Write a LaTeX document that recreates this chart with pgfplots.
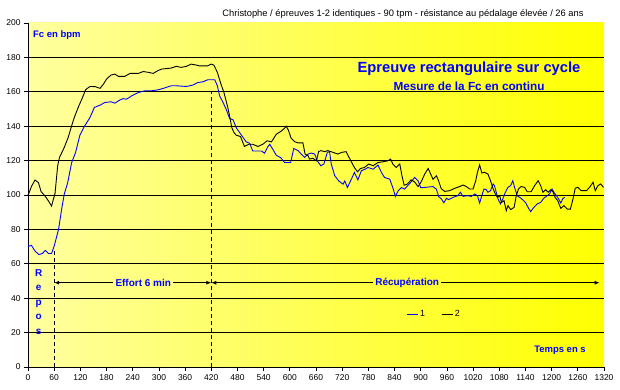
\documentclass[border=0pt]{standalone}
\usepackage{pgfplots}
\pgfplotsset{compat=1.18}
\usepackage{fontspec}
\setmainfont{Liberation Sans}
\usetikzlibrary{arrows.meta}
\definecolor{fcblue}{RGB}{0,0,255}
\definecolor{bgl}{RGB}{255,255,160}
\definecolor{bgr}{RGB}{255,255,0}

\pgfplotstableread{
t v
0 70
2 70.3
8 70.7
16 67.4
25 65.4
33 66
40 67.8
47 66
54 66
60 70.3
70 80
77 91.6
83 100.4
91 107.2
100 118.8
109 124.7
119 134.8
129 139.8
142 145
152 150.9
165 152.2
176 153.8
190 154.2
199 153.4
211 155.3
218 156
226 155.7
238 157.7
253 159.6
268 160.6
283 160.6
299 161.2
314 162.3
328 163.5
340 163.5
363 163.1
378 163.9
389 165.4
401 165.8
412 167
428 167
434 163.5
439 157.7
447 153.8
454 149.9
462 144.5
470 143.7
477 139.2
485 136.3
493 133.4
500 130.9
508 130.1
515 125.6
535 125.6
542 124.3
550 128.2
554 129.5
561 126.6
569 123.1
579 121.7
588 118.9
602 118.9
609 127.1
619 125.8
626 123.8
634 121.9
642 123.8
649 124.4
657 123.8
663 119.9
671 117
678 118
686 124.8
691 125.2
695 118
703 111.2
712 108.2
722 106.3
726 108.2
732 104.3
741 109.2
748 113.1
756 108.8
764 114.1
773 115
779 116
791 115
802 117.4
810 113.1
817 110.2
829 109.2
836 104.3
842 99.1
848 102.4
856 104.3
863 103.4
871 105.7
878 107.6
886 110.2
894 108.2
900 104.3
905 104.3
920 104.7
928 104.9
936 103.4
941 99.1
947 97.8
953 95.5
959 98.1
964 97.3
974 98.6
985 99.6
991 101.6
997 99.2
1007 99.6
1016 99.2
1024 100.6
1030 99.6
1035 95.3
1040 99.6
1045 103.5
1050 103.1
1054 101.6
1060 102.5
1066 106.4
1069 105.4
1073 101.6
1077 97.7
1083 94.8
1088 97.7
1094 101.6
1100 104.5
1106 105.4
1111 108.3
1115 104.5
1121 99.6
1130 98.1
1140 95.7
1146 92.8
1152 90.3
1159 92.8
1167 94.8
1175 95.7
1182 98.1
1190 99.6
1195 100.6
1201 103.5
1205 101.6
1211 99.6
1216 97.7
1221 95.3
1226 98.1
1230 98.6
}\serieA

\pgfplotstableread{
t v
0 100
2 101
8 105
16 108.7
24 107.2
30 102
39 99.4
47 96.5
54 93.6
62 101
68 117
72 121.7
83 127.6
92 133.4
100 140.2
106 145
115 150.9
125 156.7
132 161.2
142 163.1
154 163
165 162
173 164.5
180 167.4
190 169.7
199 170.3
207 169
222 169
234 170.7
253 170.7
264 171.8
276 171.3
287 170.7
297 172.2
306 173.2
328 173.8
340 174.8
351 174.2
363 174.8
374 176.1
386 175.5
393 175.1
412 175.1
420 176.1
426 175.5
434 171.3
441 165.4
449 159.6
457 151.8
462 146
467 139.2
472 136.3
477 134.8
487 134
496 128.2
506 129.5
515 129.5
527 128.2
538 129.5
548 131.5
558 130.9
569 135.3
580 137.1
588 138.8
592 140
597 137.5
603 133
611 131
619 130.3
630 130.3
635 123.8
642 122.8
645 120.9
653 121.3
661 119.9
666 125.2
671 125.8
680 125.2
687 125.8
699 124.8
710 123.8
719 124.8
729 125.2
741 119.3
748 116
755 113.5
762 115.4
771 116
781 118
791 117
802 118.9
813 119.3
825 119.9
831 120.9
836 118
844 116
852 118
857 111.2
862 105.7
869 106.3
878 108.8
886 107.6
894 104.9
901 107.6
909 112.1
917 115.4
923 112.1
928 109.2
936 111.2
941 108.2
947 103.7
955 102.1
966 102.5
978 103.9
989 104.9
997 105.8
1004 105
1012 103.5
1020 103.5
1026 108.3
1030 113.2
1035 117.5
1040 112.8
1046 113.2
1054 112.2
1060 108.3
1066 103.5
1071 100.6
1076 98.6
1081 99.6
1085 95.7
1091 96.7
1096 90.9
1100 93.8
1106 91.5
1114 92.8
1119 99.6
1124 103.5
1130 104.9
1138 104.5
1144 101.9
1153 101.9
1161 105.4
1169 108.3
1175 105.4
1180 101.6
1186 103.1
1192 101.6
1198 103.1
1203 101.9
1208 98.6
1214 96.7
1221 92.2
1228 93.8
1236 91.8
1243 91.8
1249 97.7
1254 103.9
1260 104.5
1268 102.5
1280 102.5
1287 104.5
1295 107.4
1300 102.5
1306 105.4
1312 106.4
1319 104.5
}\serieB

\begin{document}
\begin{tikzpicture}
\begin{axis}[
  scale only axis, width=576bp, height=344bp,
  xmin=0, xmax=1320, ymin=0, ymax=200,
  axis lines=left, axis line style={-, line width=0.8bp},
  xtick={0,60,...,1320}, ytick={0,20,...,180},
  extra y ticks={200}, extra y tick style={grid=none},
  ymajorgrids, grid style={black, line width=0.8bp},
  tick align=outside, major tick length=4bp, tick style={black, line width=0.8bp},
  ticklabel style={font=\fontsize{8.5}{10}\selectfont},
  /pgf/number format/assume math mode=true,
  /pgf/number format/1000 sep={},
  axis background/.style={shade, left color=bgl, right color=bgr},
  clip=false,
  legend style={draw=none, fill=none, at={(0.705,0.154)}, anchor=center,
    font=\fontsize{9}{10}\selectfont,
    /tikz/every even column/.append style={column sep=14bp}},
  legend columns=2,
  legend image code/.code={\draw[#1] (0bp,0bp) -- (11bp,0bp);},
]
\addplot[fcblue, line width=0.9bp] table[x=t, y=v] {\serieA};
\addlegendentry{1}
\addplot[black, line width=0.9bp] table[x=t, y=v] {\serieB};
\addlegendentry{2}

\addplot[black, line width=0.8bp, dash pattern=on 4bp off 3bp, forget plot] coordinates {(60,0) (60,68)};
\addplot[black, line width=0.8bp, dash pattern=on 4bp off 3bp, forget plot] coordinates {(420,0) (420,160)};

\node[text=fcblue, font=\bfseries\fontsize{10}{12}\selectfont, inner sep=2bp] (eff) at (axis cs:264,49) {Effort 6 min};
\node[text=fcblue, font=\bfseries\fontsize{10}{12}\selectfont, inner sep=2bp] (rec) at (axis cs:869,49) {Récupération};
\draw[line width=0.8bp, {Latex[length=5bp,width=4bp]}-] (axis cs:60,49) -- (eff.west);
\draw[line width=0.8bp, -{Latex[length=5bp,width=4bp]}] (eff.east) -- (axis cs:420,49);
\draw[line width=0.8bp, {Latex[length=5bp,width=4bp]}-] (axis cs:420,49) -- (rec.west);
\draw[line width=0.8bp, -{Latex[length=5bp,width=4bp]}] (rec.east) -- (axis cs:1310,49);
\end{axis}

\node[font=\fontsize{9.4}{11}\selectfont] at (375bp,353bp) {Christophe / épreuves 1-2 identiques - 90 tpm - résistance au pédalage élevée / 26 ans};
\node[anchor=west, text=fcblue, font=\bfseries\fontsize{9.5}{11}\selectfont, inner sep=0pt] at (5bp,332bp) {Fc en bpm};
\node[text=fcblue, font=\bfseries\fontsize{14.8}{17}\selectfont] at (441bp,298bp) {Epreuve rectangulaire sur cycle};
\node[text=fcblue, font=\bfseries\fontsize{11.8}{14}\selectfont] at (441bp,281bp) {Mesure de la Fc en continu};
\node[text=fcblue, font=\bfseries\fontsize{9.5}{11}\selectfont] at (532bp,17bp) {Temps en s};
\node[text=fcblue, font=\bfseries\fontsize{10}{14.5}\selectfont, align=center, inner sep=0pt] at (10.7bp,65bp) {R\\e\\p\\o\\s};

\pgfresetboundingbox
\path[use as bounding box] (-28bp,-23bp) rectangle (592bp,367bp);
\end{tikzpicture}
\end{document}
